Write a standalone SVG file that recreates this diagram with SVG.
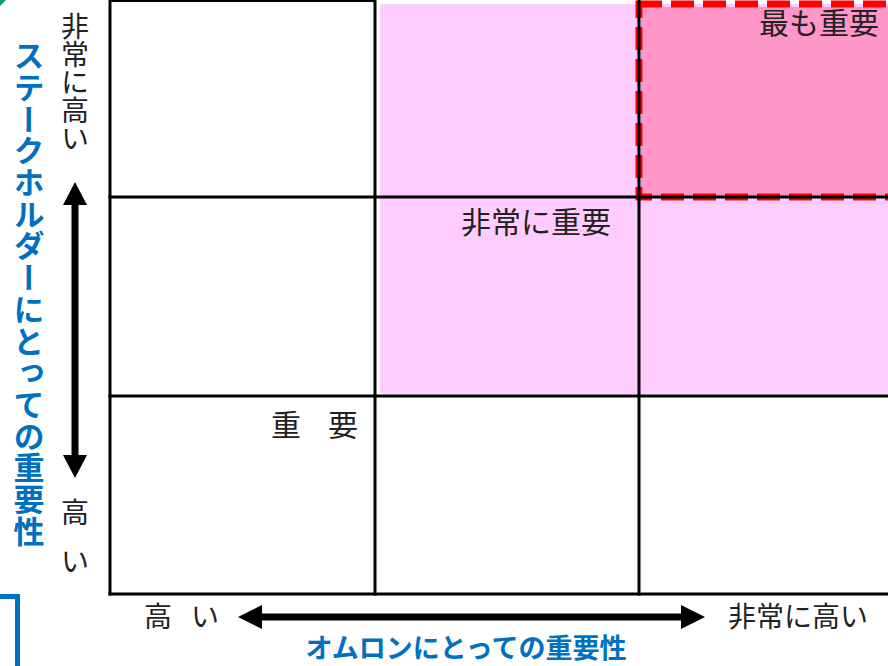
<svg xmlns="http://www.w3.org/2000/svg" width="888" height="666" viewBox="0 0 888 666">
<defs>
<style>
.grid{stroke:#000;stroke-width:3;fill:none}
.lbl{font-family:"Noto Sans CJK JP","Noto Sans",sans-serif;font-size:30px;fill:#222}
.ax{font-family:"Noto Sans CJK JP","Noto Sans",sans-serif;font-size:28px;fill:#222}
.blue{font-family:"Noto Sans CJK JP","Noto Sans",sans-serif;font-weight:bold;fill:#0070C0}
.vert{writing-mode:vertical-rl}
.arrow{fill:#000}
</style>
</defs>
<rect width="888" height="666" fill="#fff"/>
<polygon points="0,0 6,0 0,6" fill="#00A36C"/>
<g id="regions">
<rect x="380" y="4" width="512" height="390" rx="3" fill="#FFCCFF"/>
<rect x="641" y="7" width="250" height="189" fill="#FF96C8"/>
<rect x="639" y="4" width="262" height="193" fill="none" stroke="#FF0000" stroke-width="7" stroke-dasharray="23 9"/>
</g>
<g id="grid">
<line class="grid" x1="109" y1="0.5" x2="376" y2="0.5"/>
<line class="grid" x1="110" y1="0" x2="110" y2="595.5"/>
<line class="grid" x1="375" y1="0" x2="375" y2="595.5"/>
<line class="grid" x1="639" y1="0" x2="639" y2="595.5"/>
<line class="grid" x1="108.5" y1="197" x2="888" y2="197"/>
<line class="grid" x1="108.5" y1="396" x2="888" y2="396"/>
<line class="grid" x1="108.5" y1="594" x2="888" y2="594"/>
</g>
<g id="cell-labels">
<text class="lbl" x="879" y="34" text-anchor="end">最も重要</text>
<text class="lbl" x="461" y="233">非常に重要</text>
<text class="lbl" x="271" y="436">重</text>
<text class="lbl" x="328" y="436">要</text>
</g>
<g id="connectors">
<polygon class="arrow" points="75,182 87,205 78.5,205 78.5,455 87,455 75,478 63,455 71.5,455 71.5,205 63,205"/>
<polygon class="arrow" points="238,617 262,605 262,613.5 681,613.5 681,605 705,617 681,629 681,620.5 262,620.5 262,629"/>
</g>
<g id="y-axis">
<text class="ax vert" x="75" y="12">非常に高い</text>
<text class="ax" x="61" y="523">高</text>
<text class="ax" x="61" y="572">い</text>
<text class="blue vert" x="29" y="40" style="font-size:31px;letter-spacing:0.7px">ステークホルダーにとっての重要性</text>
</g>
<g id="x-axis">
<text class="ax" x="144" y="627">高</text>
<text class="ax" x="191" y="627">い</text>
<text class="ax" x="728" y="627">非常に高い</text>
<text class="blue" x="466" y="658" text-anchor="middle" style="font-size:27px">オムロンにとっての重要性</text>
</g>
<polyline points="0,596.5 17.5,596.5 17.5,666" fill="none" stroke="#0070C0" stroke-width="5"/>
</svg>
